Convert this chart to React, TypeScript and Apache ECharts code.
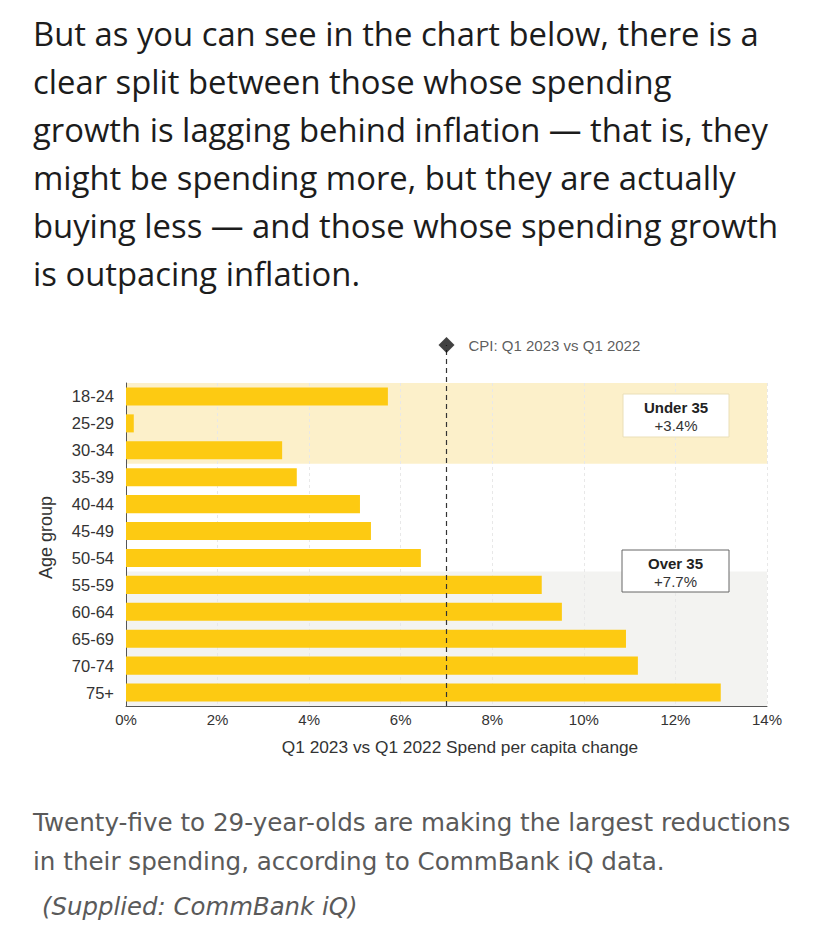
import React, { useEffect, useRef } from "react";
import * as echarts from "echarts";

const paragraphLines = [
  "But as you can see in the chart below, there is a",
  "clear split between those whose spending",
  "growth is lagging behind inflation — that is, they",
  "might be spending more, but they are actually",
  "buying less — and those whose spending growth",
  "is outpacing inflation.",
];
const captionLines = [
  "Twenty-five to 29-year-olds are making the largest reductions",
  "in their spending, according to CommBank iQ data.",
];
const sourceLine = "(Supplied: CommBank iQ)";

const categories = [
  "18-24", "25-29", "30-34", "35-39", "40-44", "45-49",
  "50-54", "55-59", "60-64", "65-69", "70-74", "75+",
];
const spendChange = [5.72, 0.17, 3.41, 3.73, 5.11, 5.35, 6.44, 9.08, 9.52, 10.92, 11.18, 12.99];
const cpiValue = 7.0;
const cpiLabel = "CPI: Q1 2023 vs Q1 2022";
const xTicks = { min: 0, max: 14, interval: 2 };
const bandFrom = ["18-24", "55-59"];
const bandTo = ["30-34", "75+"];
const bandColors = ["#fcf0ca", "#f3f3f1"];
const groupNames = ["Under 35", "Over 35"];
const groupValues = ["+3.4%", "+7.7%"];
const xAxisTitle = "Q1 2023 vs Q1 2022 Spend per capita change";
const yAxisTitle = "Age group";

const CHART_FONT = "'Liberation Sans', Arial, sans-serif";
const TEXT_FONT = "'Open Sans', 'Noto Sans', sans-serif";
const CAPTION_FONT = "'DejaVu Sans', sans-serif";

export default function App() {
  const ref = useRef<HTMLDivElement>(null);
  useEffect(() => {
    if (!ref.current) return;
    const chart = echarts.init(ref.current, null, { renderer: "svg" });

    const gridLeft = 126;
    const gridRight = 61;
    const gridTop = 383;
    const gridBottom = 221;

    const bandData = bandFrom.map((f, i) => [
      xTicks.min,
      categories.indexOf(f),
      xTicks.max,
      categories.indexOf(bandTo[i]),
      i,
    ]);

    const graphic: any[] = [];
    paragraphLines.forEach((t, i) => {
      graphic.push({
        type: "text",
        x: 33,
        y: 33 + i * 48,
        style: {
          text: t,
          fontFamily: TEXT_FONT,
          fontSize: 32.8,
          fill: "#1c1c1c",
          textVerticalAlign: "middle",
          verticalAlign: "middle",
        },
      });
    });
    captionLines.forEach((t, i) => {
      graphic.push({
        type: "text",
        x: 33,
        y: 822 + i * 39,
        style: {
          text: t,
          fontFamily: CAPTION_FONT,
          fontSize: 24.6,
          fill: "#5a5a5a",
          textVerticalAlign: "middle",
          verticalAlign: "middle",
        },
      });
    });
    graphic.push({
      type: "text",
      x: 42,
      y: 906,
      style: {
        text: sourceLine,
        fontFamily: CAPTION_FONT,
        fontSize: 24.4,
        fontStyle: "italic",
        fill: "#5a5a5a",
        textVerticalAlign: "middle",
        verticalAlign: "middle",
      },
    });
    // annotation boxes
    const boxes = [
      { x: 623, y: 394, w: 106, h: 43, stroke: "#eadfb8" },
      { x: 622, y: 550, w: 107, h: 42, stroke: "#666666" },
    ];
    boxes.forEach((b, i) => {
      graphic.push({
        type: "rect",
        shape: { x: b.x, y: b.y, width: b.w, height: b.h },
        style: { fill: "#ffffff", stroke: b.stroke, lineWidth: 1 },
        z: 10,
      });
      graphic.push({
        type: "text",
        x: b.x + b.w / 2,
        y: b.y + 13,
        z: 11,
        style: {
          text: groupNames[i],
          fontFamily: CHART_FONT,
          fontSize: 15,
          fontWeight: "bold",
          fill: "#222",
          textAlign: "center",
          textVerticalAlign: "middle",
          align: "center",
          verticalAlign: "middle",
        },
      });
      graphic.push({
        type: "text",
        x: b.x + b.w / 2,
        y: b.y + 31,
        z: 11,
        style: {
          text: groupValues[i],
          fontFamily: CHART_FONT,
          fontSize: 15,
          fill: "#333",
          textAlign: "center",
          textVerticalAlign: "middle",
          align: "center",
          verticalAlign: "middle",
        },
      });
    });

    chart.setOption({
      animation: false,
      backgroundColor: "#ffffff",
      textStyle: { fontFamily: CHART_FONT },
      grid: [
        { left: gridLeft, right: gridRight, top: gridTop, bottom: gridBottom },
        { left: gridLeft, right: gridRight, top: 345, bottom: gridBottom },
      ],
      xAxis: [
        {
          type: "value",
          gridIndex: 0,
          min: xTicks.min,
          max: xTicks.max,
          interval: xTicks.interval,
          axisLine: { show: true, lineStyle: { color: "#555", width: 1 } },
          axisTick: { show: false },
          axisLabel: {
            formatter: "{value}%",
            fontSize: 15,
            color: "#333",
            margin: 6,
            fontFamily: CHART_FONT,
          },
          splitLine: {
            show: true,
            lineStyle: { color: "#e8e8e8", type: [3, 3], width: 1 },
          },
          name: xAxisTitle,
          nameLocation: "middle",
          nameGap: 32,
          nameTextStyle: {
            fontSize: 17.3,
            color: "#333",
            fontFamily: CHART_FONT,
            padding: [0, 0, 0, 27],
          },
        },
        {
          type: "value",
          gridIndex: 1,
          min: xTicks.min,
          max: xTicks.max,
          show: false,
        },
      ],
      yAxis: [
        {
          type: "category",
          gridIndex: 0,
          data: categories,
          inverse: true,
          axisLine: { show: true, lineStyle: { color: "#555", width: 1 } },
          axisTick: { show: false },
          axisLabel: {
            fontSize: 16.5,
            color: "#333",
            margin: 12,
            fontFamily: CHART_FONT,
          },
          name: yAxisTitle,
          nameLocation: "middle",
          nameRotate: 90,
          nameGap: 71,
          nameTextStyle: {
            fontSize: 18,
            color: "#333",
            fontFamily: CHART_FONT,
            padding: [0, 0, 0, 14],
          },
        },
        {
          type: "value",
          gridIndex: 1,
          min: 0,
          max: 1,
          show: false,
        },
      ],
      series: [
        {
          type: "custom",
          xAxisIndex: 0,
          yAxisIndex: 0,
          z: -1,
          silent: true,
          encode: { x: [0, 2], y: [1, 3] },
          data: bandData,
          renderItem: (params: any, api: any) => {
            const x0 = api.value(0);
            const y0 = api.value(1);
            const x1 = api.value(2);
            const y1 = api.value(3);
            const idx = api.value(4);
            const p0 = api.coord([x0, y0]);
            const p1 = api.coord([x1, y1]);
            const h = api.size([0, 1])[1];
            return {
              type: "rect",
              shape: {
                x: p0[0],
                y: p0[1] - h / 2,
                width: p1[0] - p0[0],
                height: p1[1] - p0[1] + h,
              },
              style: { fill: bandColors[idx] },
            };
          },
        },
        {
          type: "bar",
          xAxisIndex: 0,
          yAxisIndex: 0,
          data: spendChange,
          barCategoryGap: "33%",
          itemStyle: { color: "#fdca12" },
          z: 2,
        },
        {
          type: "line",
          xAxisIndex: 1,
          yAxisIndex: 1,
          data: [
            [cpiValue, 0],
            [cpiValue, 1],
          ],
          symbol: "none",
          lineStyle: { color: "#333", width: 1.2, type: [5, 4] },
          z: 5,
          silent: true,
        },
        {
          type: "scatter",
          xAxisIndex: 1,
          yAxisIndex: 1,
          data: [[cpiValue, 1]],
          symbol: "diamond",
          symbolSize: [16, 16],
          itemStyle: { color: "#111" },
          z: 6,
          label: {
            show: true,
            position: "right",
            distance: 14,
            formatter: cpiLabel,
            fontSize: 15,
            color: "#333",
            fontFamily: CHART_FONT,
          },
        },
      ],
      graphic,
    });

    return () => chart.dispose();
  }, []);

  return (
    <div
      ref={ref}
      style={{ position: "absolute", left: 0, top: 0, width: 828, height: 927 }}
    />
  );
}
